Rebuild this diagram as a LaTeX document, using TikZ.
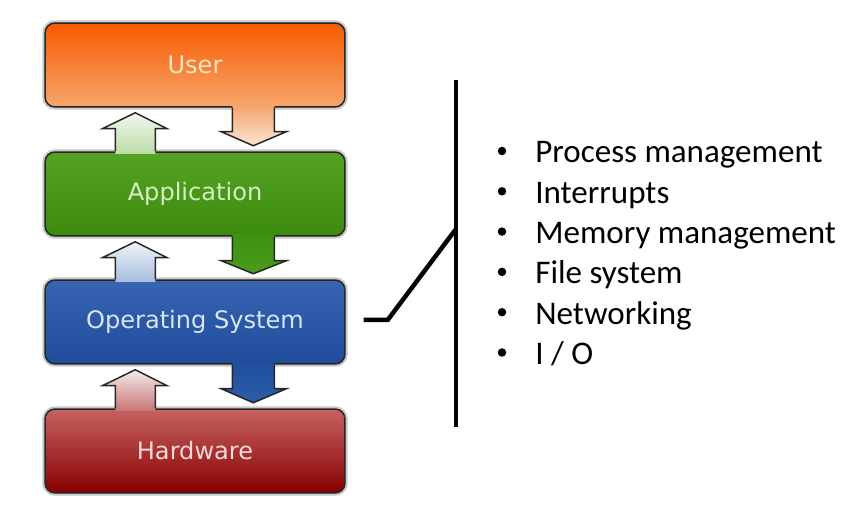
\documentclass[tikz,border=0pt]{standalone}
\usepackage{fontspec}
\setmainfont{Carlito}
\newfontfamily\layerfont{DejaVu Sans}
\usetikzlibrary{calc,positioning}

\definecolor{usertop}{HTML}{F75A00}
\definecolor{userbot}{HTML}{F7A66C}
\definecolor{usertext}{HTML}{FCE6C2}
\definecolor{apptop}{HTML}{55A322}
\definecolor{appbot}{HTML}{3C8B0F}
\definecolor{apptext}{HTML}{D6EEC4}
\definecolor{ostop}{HTML}{3765B2}
\definecolor{osbot}{HTML}{1E4C9B}
\definecolor{ostext}{HTML}{D9E4F4}
\definecolor{hwtop}{HTML}{C76363}
\definecolor{hwmid}{HTML}{9A1C1C}
\definecolor{hwbot}{HTML}{870000}
\definecolor{hwtext}{HTML}{F7D9D9}
% arrow colours
\definecolor{upgreentop}{HTML}{F2F8EE}
\definecolor{upgreenbot}{HTML}{BCDDA8}
\definecolor{downorangetop}{HTML}{F5A56C}
\definecolor{downorangebot}{HTML}{FCE4D4}
\definecolor{upbluetop}{HTML}{EEF2F9}
\definecolor{upbluebot}{HTML}{A8BEDF}
\definecolor{downgreentop}{HTML}{3F9112}
\definecolor{downgreenbot}{HTML}{4A9E1A}
\definecolor{upredtop}{HTML}{F5EBEB}
\definecolor{upredbot}{HTML}{C77575}
\definecolor{downbluetop}{HTML}{1F4E9C}
\definecolor{downbluebot}{HTML}{2C5CAA}

\tikzset{
    layer/.style={draw=black!85, line width=0.03cm, rounded corners=0.2cm,
        minimum width=6cm, minimum height=1.68cm, inner sep=0pt,
        preaction={draw=black!22, line width=0.11cm},
        font=\layerfont\fontsize{13.7}{16}\selectfont},
    blockline/.style={draw=black!85, line width=0.03cm},
    bar/.style={draw=black, line width=0.09cm},
    bullet/.style={circle, fill=black, inner sep=0pt, minimum size=0.17cm},
    entry/.style={anchor=base west, inner sep=0pt, font=\fontsize{18.8}{22}\selectfont},
}

\begin{document}
\begin{tikzpicture}[x=0.02cm, y=-0.02cm]
	\useasboundingbox (0,0) rectangle (859,516);
	\node[layer, top color=usertop, bottom color=userbot, text=usertext] (user) at (195,65) {User};
	\node[layer, top color=apptop, bottom color=appbot, text=apptext] (app) at (195,194) {Application};
	\node[layer, top color=ostop, bottom color=osbot, text=ostext] (os) at (195,322) {Operating System};
	\node[layer, top color=hwtop, middle color=hwmid, bottom color=hwbot, text=hwtext] (hw) at (195,451) {Hardware};
%
	\foreach \lo/\hi/\ct/\cb in {app/user/upgreentop/upgreenbot, os/app/upbluetop/upbluebot, hw/os/upredtop/upredbot}{
		\shade[top color=\ct, bottom color=\cb] ($(\lo.north west)+(71,2.5)$) -- ($(\hi.south west)+(71,21)$)
			-- ($(\hi.south west)+(58,21)$) -- ($(\hi.south west)+(91,5)$) -- ($(\hi.south west)+(123,21)$)
			-- ($(\hi.south west)+(111,21)$) -- ($(\lo.north west)+(111,2.5)$) -- cycle;
		\draw[blockline] ($(\lo.north west)+(71,0)$) -- ($(\hi.south west)+(71,21)$)
			-- ($(\hi.south west)+(58,21)$) -- ($(\hi.south west)+(91,5)$) -- ($(\hi.south west)+(123,21)$)
			-- ($(\hi.south west)+(111,21)$) -- ($(\lo.north west)+(111,0)$);
	}
	\foreach \hi/\lo/\ct/\cb in {user/app/downorangetop/downorangebot, app/os/downgreentop/downgreenbot, os/hw/downbluetop/downbluebot}{
		\shade[top color=\ct, bottom color=\cb] ($(\hi.south west)+(188,-2.5)$) -- ($(\hi.south west)+(188,24)$)
			-- ($(\hi.south west)+(177,24)$) -- ($(\lo.north west)+(209,-5.5)$) -- ($(\hi.south west)+(242,24)$)
			-- ($(\hi.south west)+(230,24)$) -- ($(\hi.south west)+(230,-2.5)$) -- cycle;
		\draw[blockline] ($(\hi.south west)+(188,0)$) -- ($(\hi.south west)+(188,24)$)
			-- ($(\hi.south west)+(177,24)$) -- ($(\lo.north west)+(209,-5.5)$) -- ($(\hi.south west)+(242,24)$)
			-- ($(\hi.south west)+(230,24)$) -- ($(\hi.south west)+(230,0)$);
	}
%
	\coordinate (bartop) at (456,80);
	\coordinate (barbot) at (456,427);
	\coordinate (join) at (456,229);
	\coordinate (tap) at ($(os.east)+(18,-2)$);
	\coordinate (knee) at ($(os.east)+(42,-2)$);
	\draw[bar] (bartop) -- (barbot);
	\draw[bar] (tap) -- (knee) -- (join);
%
	\foreach \entrytext [count=\i from 0] in {Process management, Interrupts, Memory management, File system, Networking, I / O}{
		\node[bullet] (dot\i) at (502,151+40.3*\i) {};
		\node[entry] (entry\i) at (535,163+40.3*\i) {\entrytext};
	}
\end{tikzpicture}
\end{document}
